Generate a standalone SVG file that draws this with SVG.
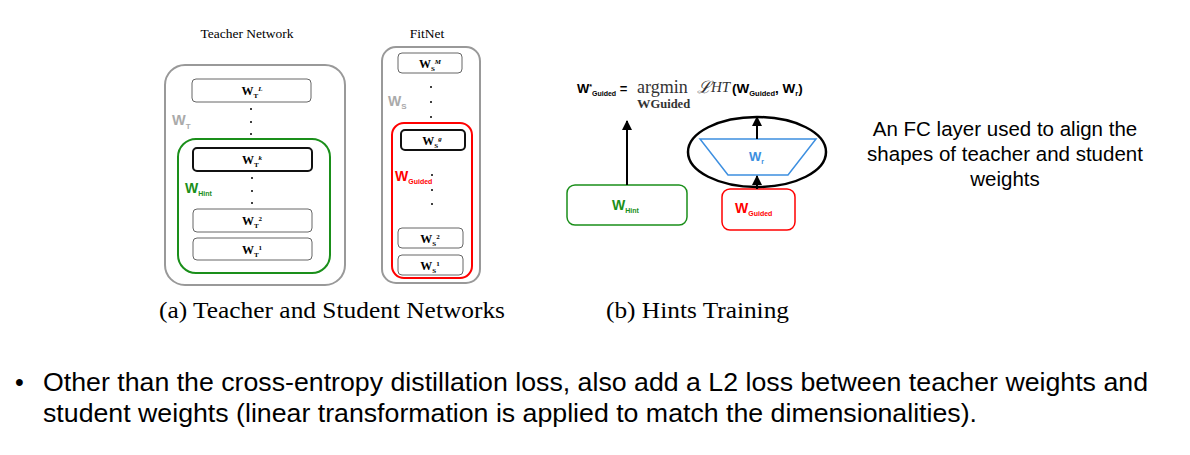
<svg xmlns="http://www.w3.org/2000/svg" width="1190" height="455" viewBox="0 0 1190 455">
<style>
.bg{fill:#fff}
.outer{fill:#fff;stroke:#999;stroke-width:2}
.layer{fill:#fff;stroke:#666;stroke-width:1}
.layerk{fill:#fff;stroke:#111;stroke-width:2}
.green{fill:none;stroke:#1a8f1a;stroke-width:2}
.red{fill:none;stroke:#f00;stroke-width:2}
.lbl{font-family:"Liberation Serif",serif;font-weight:bold;font-size:12px;fill:#000}
.sm{font-size:7px}
.dot{fill:#000}
.title{font-family:"Liberation Serif",serif;font-size:13.5px;fill:#000}
.sans{font-family:"Liberation Sans",Arial,sans-serif;font-weight:bold}
.cap{font-family:"Liberation Serif",serif;font-size:24px;fill:#000}
.body{font-family:"Liberation Sans",Arial,sans-serif;font-size:25px;fill:#000}
.fc{font-family:"Liberation Sans",Arial,sans-serif;font-size:20.5px;fill:#000}
.conn{stroke:#000;stroke-width:2;fill:none}
</style>
<defs>
<marker id="ah" viewBox="0 0 10 10" refX="9" refY="5" markerWidth="5" markerHeight="5" orient="auto">
<path d="M0,0 L10,5 L0,10 z" fill="#000"/>
</marker>
</defs>
<rect class="bg" x="0" y="0" width="1190" height="455"/>

<!-- Teacher network -->
<g id="teacher">
<text class="title" x="247" y="38" text-anchor="middle">Teacher Network</text>
<rect class="outer" x="165" y="65" width="180" height="220" rx="20"/>
<text class="sans" x="172" y="125" font-size="14.5" fill="#aaa">W<tspan font-size="8" dy="4">T</tspan></text>
<rect class="layer" x="192" y="79" width="119" height="23" rx="4"/>
<text class="lbl" x="252" y="95" text-anchor="middle">W<tspan class="sm" dy="3">T</tspan><tspan class="sm" dy="-7" font-style="italic">L</tspan></text>
<circle class="dot" cx="251" cy="109" r="1"/>
<circle class="dot" cx="251" cy="122" r="1"/>
<circle class="dot" cx="251" cy="134" r="1"/>
</g>
<g id="hint-block">
<rect class="green" x="178" y="139" width="152" height="134" rx="18"/>
<text class="sans" x="185" y="193" font-size="14" fill="#1a8f1a">W<tspan font-size="7" dy="3">Hint</tspan></text>
<rect class="layerk" x="193" y="148" width="119" height="23" rx="4"/>
<text class="lbl" x="252" y="164" text-anchor="middle">W<tspan class="sm" dy="3">T</tspan><tspan class="sm" dy="-7" font-style="italic">k</tspan></text>
<circle class="dot" cx="252" cy="178" r="1"/>
<circle class="dot" cx="252" cy="191" r="1"/>
<circle class="dot" cx="252" cy="203" r="1"/>
<rect class="layer" x="193" y="209" width="119" height="23" rx="4"/>
<text class="lbl" x="252" y="225" text-anchor="middle">W<tspan class="sm" dy="3">T</tspan><tspan class="sm" dy="-7">2</tspan></text>
<rect class="layer" x="193" y="238" width="119" height="22" rx="4"/>
<text class="lbl" x="252" y="254" text-anchor="middle">W<tspan class="sm" dy="3">T</tspan><tspan class="sm" dy="-7">1</tspan></text>
</g>

<!-- FitNet -->
<g id="fitnet">
<text class="title" x="427" y="38" text-anchor="middle">FitNet</text>
<rect class="outer" x="382" y="47" width="98" height="236" rx="14"/>
<text class="sans" x="388" y="106" font-size="14" fill="#aaa">W<tspan font-size="8" dy="3">S</tspan></text>
<rect class="layer" x="398" y="53" width="64" height="20" rx="4"/>
<text class="lbl" x="430" y="68" text-anchor="middle">W<tspan class="sm" dy="3">S</tspan><tspan class="sm" dy="-7" font-style="italic">M</tspan></text>
<circle class="dot" cx="431" cy="87" r="1"/>
<circle class="dot" cx="431" cy="102" r="1"/>
<circle class="dot" cx="431" cy="117" r="1"/>
</g>
<g id="guided-block">
<rect class="red" x="392" y="123" width="80" height="155" rx="12"/>
<rect class="layerk" x="401" y="130" width="64" height="20" rx="4"/>
<text class="lbl" x="432" y="145" text-anchor="middle">W<tspan class="sm" dy="3">S</tspan><tspan class="sm" dy="-7" font-style="italic">g</tspan></text>
<text class="sans" x="395" y="181" font-size="14" fill="#f00">W<tspan font-size="7" dy="3">Guided</tspan></text>
<circle class="dot" cx="432" cy="175" r="1"/>
<circle class="dot" cx="432" cy="190" r="1"/>
<circle class="dot" cx="432" cy="204" r="1"/>
<rect class="layer" x="398" y="228" width="65" height="20" rx="4"/>
<text class="lbl" x="430" y="243" text-anchor="middle">W<tspan class="sm" dy="3">S</tspan><tspan class="sm" dy="-7">2</tspan></text>
<rect class="layer" x="398" y="255" width="65" height="20" rx="4"/>
<text class="lbl" x="430" y="270" text-anchor="middle">W<tspan class="sm" dy="3">S</tspan><tspan class="sm" dy="-7">1</tspan></text>
</g>

<!-- Hints training -->
<g id="formula">
<text class="sans" x="577" y="93" font-size="13" fill="#000">W<tspan font-size="7" dy="-4">*</tspan><tspan font-size="7" dy="7">Guided</tspan><tspan font-size="13" dy="-3"> =</tspan></text>
<text x="637" y="93" font-family="Liberation Serif,serif" font-size="18" fill="#333">argmin</text>
<text x="637" y="108" font-family="Liberation Serif,serif" font-weight="bold" font-size="13.5" fill="#333">W<tspan font-size="12.5">Guided</tspan></text>
<text x="697" y="93" font-family="DejaVu Serif,serif" font-style="italic" font-size="17" fill="#333">ℒ<tspan font-family="Liberation Serif,serif" font-size="15" dy="-1">HT</tspan></text>
<text class="sans" x="732" y="93" font-size="13.5" fill="#000">(W<tspan font-size="7.5" dy="3">Guided</tspan><tspan dy="-3">, W</tspan><tspan font-size="7.5" dy="3">r</tspan><tspan dy="-3">)</tspan></text>
</g>
<g id="w-hint">
<rect x="567" y="185" width="120" height="40" rx="8" fill="#fff" stroke="#1a8f1a" stroke-width="1.5"/>
<text class="sans" x="612" y="210" font-size="14" fill="#1a8f1a">W<tspan font-size="7" dy="3">Hint</tspan></text>
</g>
<g id="w-guided">
<rect x="722" y="189" width="73" height="41" rx="8" fill="#fff" stroke="#f00" stroke-width="1.5"/>
<text class="sans" x="735" y="213" font-size="14" fill="#f00">W<tspan font-size="7" dy="3">Guided</tspan></text>
</g>
<g id="fc-layer">
<ellipse cx="757" cy="152" rx="69" ry="35" fill="none" stroke="#000" stroke-width="2.5"/>
<polygon points="700,139 816,139 788,175 728,175" fill="none" stroke="#3d8fe0" stroke-width="1.5"/>
<text class="sans" x="749" y="161" font-size="13" fill="#3d8fe0">W<tspan font-size="7" dy="3">r</tspan></text>
</g>
<g id="connectors">
<line class="conn" x1="627" y1="185" x2="627" y2="121" marker-end="url(#ah)"/>
<line class="conn" x1="757" y1="189" x2="757" y2="176" stroke-width="1.5" marker-end="url(#ah)"/>
<line class="conn" x1="757" y1="139" x2="757" y2="117" stroke-width="1.5" marker-end="url(#ah)"/>
</g>
<g id="fc-note">
<text class="fc" x="1005" y="136" text-anchor="middle">An FC layer used to align the</text>
<text class="fc" x="1005" y="161" text-anchor="middle">shapes of teacher and student</text>
<text class="fc" x="1005" y="186" text-anchor="middle">weights</text>
</g>

<!-- captions -->
<text class="cap" x="159" y="318" textLength="346" lengthAdjust="spacingAndGlyphs">(a)  Teacher and Student Networks</text>
<text class="cap" x="606" y="318" textLength="183" lengthAdjust="spacingAndGlyphs">(b)  Hints Training</text>

<!-- bullet -->
<text class="body" x="15" y="391">•</text>
<text class="body" x="43" y="391" textLength="1105" lengthAdjust="spacingAndGlyphs">Other than the cross-entropy distillation loss, also add a L2 loss between teacher weights and</text>
<text class="body" x="43" y="422" textLength="934" lengthAdjust="spacingAndGlyphs">student weights (linear transformation is applied to match the dimensionalities).</text>
</svg>
